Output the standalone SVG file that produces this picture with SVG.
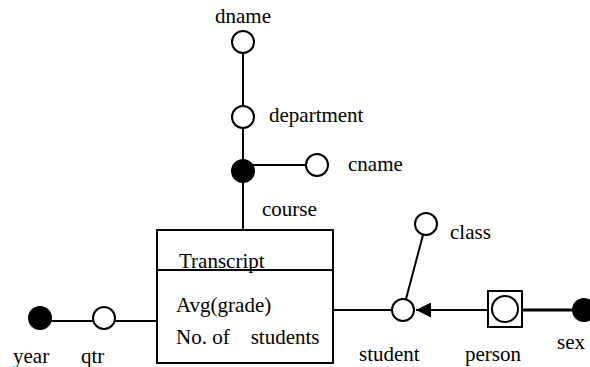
<svg xmlns="http://www.w3.org/2000/svg" width="590" height="367" viewBox="0 0 590 367">
<style>
text{font-family:"Liberation Serif","Times New Roman",serif;font-size:21px;fill:#000}
.ln{stroke:#000;stroke-width:2;fill:none}
.o{fill:#fff;stroke:#000;stroke-width:2}
.f{fill:#000;stroke:#000;stroke-width:2}
</style>
<defs>
<marker id="ah" viewBox="0 0 10 10" refX="10" refY="5" markerWidth="15" markerHeight="15" markerUnits="userSpaceOnUse" orient="auto">
<path d="M0,0 L10,5 L0,10 Z" fill="#000"/>
</marker>
</defs>
<g id="connectors">
<line class="ln" x1="243" y1="53" x2="243" y2="106"/>
<line class="ln" x1="243" y1="128" x2="243" y2="160"/>
<line class="ln" x1="243" y1="165" x2="306" y2="165"/>
<line class="ln" x1="243" y1="182" x2="243" y2="230"/>
<line class="ln" x1="40" y1="321" x2="157" y2="321"/>
<line class="ln" x1="333" y1="310" x2="392" y2="310"/>
<line class="ln" x1="406" y1="299" x2="423" y2="235"/>
<line class="ln" x1="488" y1="310" x2="416" y2="310" marker-end="url(#ah)"/>
<line x1="522" y1="310" x2="583" y2="310" stroke="#000" stroke-width="3"/>
</g>
<g id="dname"><circle class="o" cx="243" cy="42" r="11"/><text x="243" y="23" text-anchor="middle">dname</text></g>
<g id="department"><circle class="o" cx="243" cy="117" r="11"/><text x="269" y="122">department</text></g>
<g id="course"><circle class="f" cx="243" cy="171" r="11"/><text x="262" y="216">course</text></g>
<g id="cname"><circle class="o" cx="317" cy="165" r="11"/><text x="348" y="171">cname</text></g>
<g id="transcript">
<rect class="o" x="157" y="230" width="176" height="133"/>
<line class="ln" x1="157" y1="270" x2="333" y2="270"/>
<text x="179" y="268">Transcript</text>
<text x="176" y="312">Avg(grade)</text>
<text x="176" y="344" xml:space="preserve">No. of    students</text>
</g>
<g id="year"><circle class="f" cx="40" cy="318" r="11"/><text x="13" y="363">year</text></g>
<g id="qtr"><circle class="o" cx="104" cy="318" r="11"/><text x="81" y="363">qtr</text></g>
<g id="student"><circle class="o" cx="403" cy="310" r="11"/><text x="359" y="361">student</text></g>
<g id="class"><circle class="o" cx="426" cy="224" r="11"/><text x="450" y="239">class</text></g>
<g id="person"><rect class="o" x="488" y="291" width="34" height="36"/><circle class="o" cx="505" cy="309" r="13"/><text x="465" y="361">person</text></g>
<g id="sex"><circle class="f" cx="584" cy="310" r="11"/><text x="557" y="349">sex</text></g>
</svg>
